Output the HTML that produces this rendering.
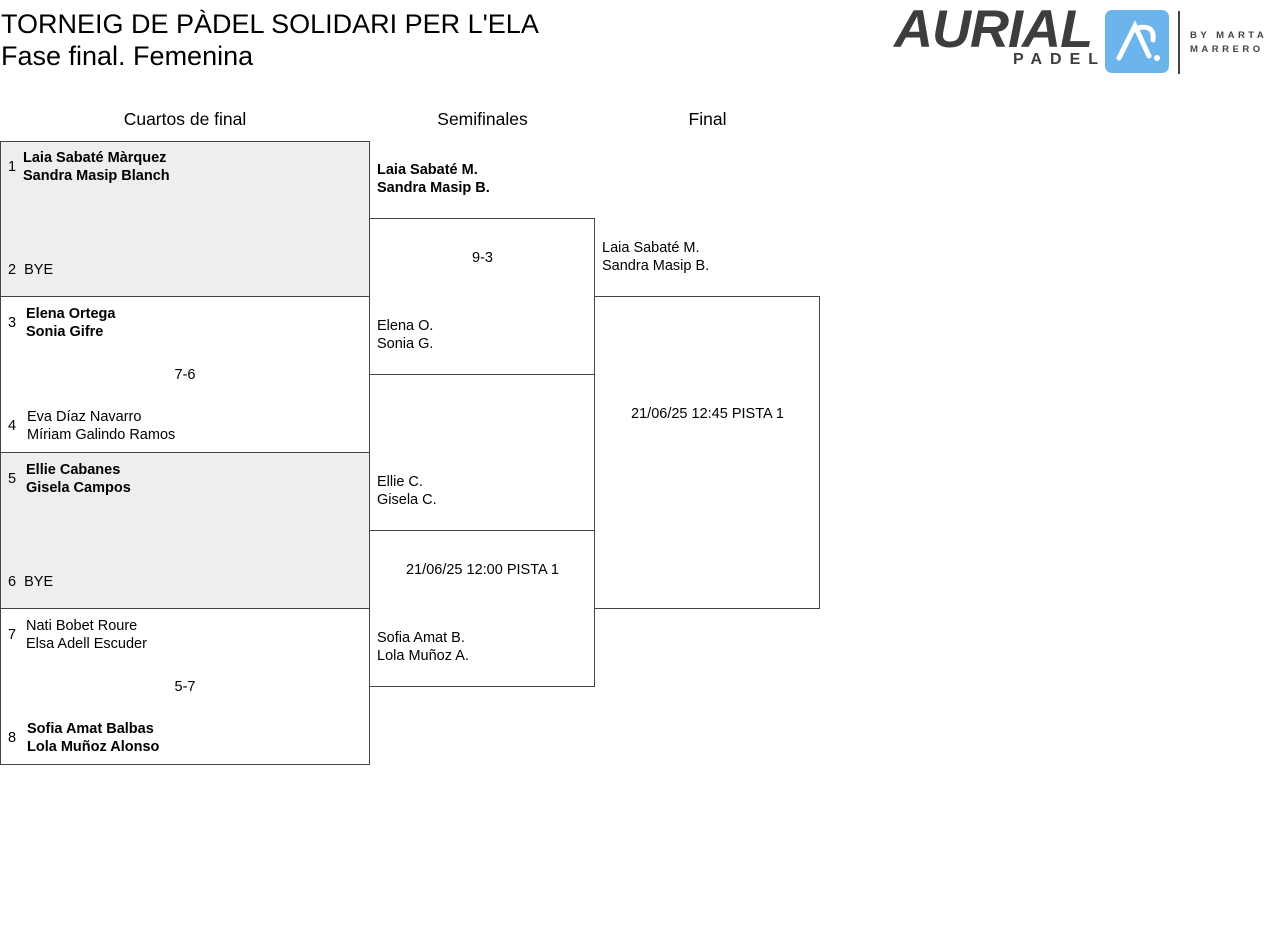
<!DOCTYPE html>
<html><head><meta charset="utf-8"><style>
body{margin:0;width:1280px;height:949px;background:#fff;font-family:"Liberation Sans",sans-serif;color:#000;position:relative;overflow:hidden}
.a{position:absolute;white-space:nowrap}
.t{font-size:14.5px;line-height:18px}
.b{font-weight:bold}
.box{position:absolute;border:1px solid #444;box-sizing:border-box}
.h{font-size:17.5px;text-align:center}
</style></head><body>
<div class="a" style="left:1px;top:8px;font-size:27px;line-height:32px">TORNEIG DE PÀDEL SOLIDARI PER L'ELA<br>Fase final. Femenina</div>
<!-- logo -->
<div class="a" style="left:894px;top:0px;font-size:53px;line-height:60px;font-weight:bold;font-style:italic;color:#3d3d3d;letter-spacing:-1px;transform:scaleX(1.02);transform-origin:left">AURIAL</div>
<div class="a" style="left:1013px;top:51px;font-size:16px;font-weight:bold;color:#3d3d3d;letter-spacing:8px">PADEL</div>
<div class="a" style="left:1105px;top:10px;width:64px;height:63px;background:#6cb4ec;border-radius:7px"></div>
<svg class="a" style="left:1105px;top:10px" width="64" height="63"><path d="M14 48 L30 16 L44 46" stroke="#fff" stroke-width="5" fill="none" stroke-linecap="round"/><path d="M32 18 Q50 14 48 30" stroke="#fff" stroke-width="5" fill="none" stroke-linecap="round"/><circle cx="52" cy="48" r="3" fill="#fff"/></svg>
<div class="a" style="left:1178px;top:11px;width:2px;height:63px;background:#444"></div>
<div class="a" style="left:1190px;top:29px;font-size:9.5px;font-weight:bold;color:#444;letter-spacing:3.5px;line-height:14px">BY MARTA<br>MARRERO</div>

<div class="a h" style="left:0;width:370px;top:109px">Cuartos de final</div>
<div class="a h" style="left:370px;width:225px;top:109px">Semifinales</div>
<div class="a h" style="left:595px;width:225px;top:109px">Final</div>

<div class="box" style="left:0;top:141px;width:370px;height:156px;background:#eee"></div>
<div class="box" style="left:0;top:296px;width:370px;height:157px"></div>
<div class="box" style="left:0;top:452px;width:370px;height:157px;background:#eee"></div>
<div class="box" style="left:0;top:608px;width:370px;height:157px"></div>
<div class="box" style="left:369px;top:218px;width:226px;height:157px"></div>
<div class="box" style="left:369px;top:530px;width:226px;height:157px"></div>
<div class="box" style="left:594px;top:296px;width:226px;height:313px"></div>

<div class="a t" style="left:8px;top:158px">1</div>
<div class="a t b" style="left:23px;top:149px">Laia Sabaté Màrquez<br>Sandra Masip Blanch</div>
<div class="a t" style="left:8px;top:261px">2&nbsp;&nbsp;BYE</div>

<div class="a t" style="left:8px;top:314px">3</div>
<div class="a t b" style="left:26px;top:305px">Elena Ortega<br>Sonia Gifre</div>
<div class="a t" style="left:0;width:370px;text-align:center;top:366px">7-6</div>
<div class="a t" style="left:8px;top:417px">4</div>
<div class="a t" style="left:27px;top:408px">Eva Díaz Navarro<br>Míriam Galindo Ramos</div>

<div class="a t" style="left:8px;top:470px">5</div>
<div class="a t b" style="left:26px;top:461px">Ellie Cabanes<br>Gisela Campos</div>
<div class="a t" style="left:8px;top:573px">6&nbsp;&nbsp;BYE</div>

<div class="a t" style="left:8px;top:626px">7</div>
<div class="a t" style="left:26px;top:617px">Nati Bobet Roure<br>Elsa Adell Escuder</div>
<div class="a t" style="left:0;width:370px;text-align:center;top:678px">5-7</div>
<div class="a t" style="left:8px;top:729px">8</div>
<div class="a t b" style="left:27px;top:720px">Sofia Amat Balbas<br>Lola Muñoz Alonso</div>

<div class="a t b" style="left:377px;top:161px">Laia Sabaté M.<br>Sandra Masip B.</div>
<div class="a t" style="left:370px;width:225px;text-align:center;top:249px">9-3</div>
<div class="a t" style="left:377px;top:317px">Elena O.<br>Sonia G.</div>
<div class="a t" style="left:377px;top:473px">Ellie C.<br>Gisela C.</div>
<div class="a t" style="left:370px;width:225px;text-align:center;top:561px">21/06/25 12:00 PISTA 1</div>
<div class="a t" style="left:377px;top:629px">Sofia Amat B.<br>Lola Muñoz A.</div>

<div class="a t" style="left:602px;top:239px">Laia Sabaté M.<br>Sandra Masip B.</div>
<div class="a t" style="left:595px;width:225px;text-align:center;top:405px">21/06/25 12:45 PISTA 1</div>
</body></html>
